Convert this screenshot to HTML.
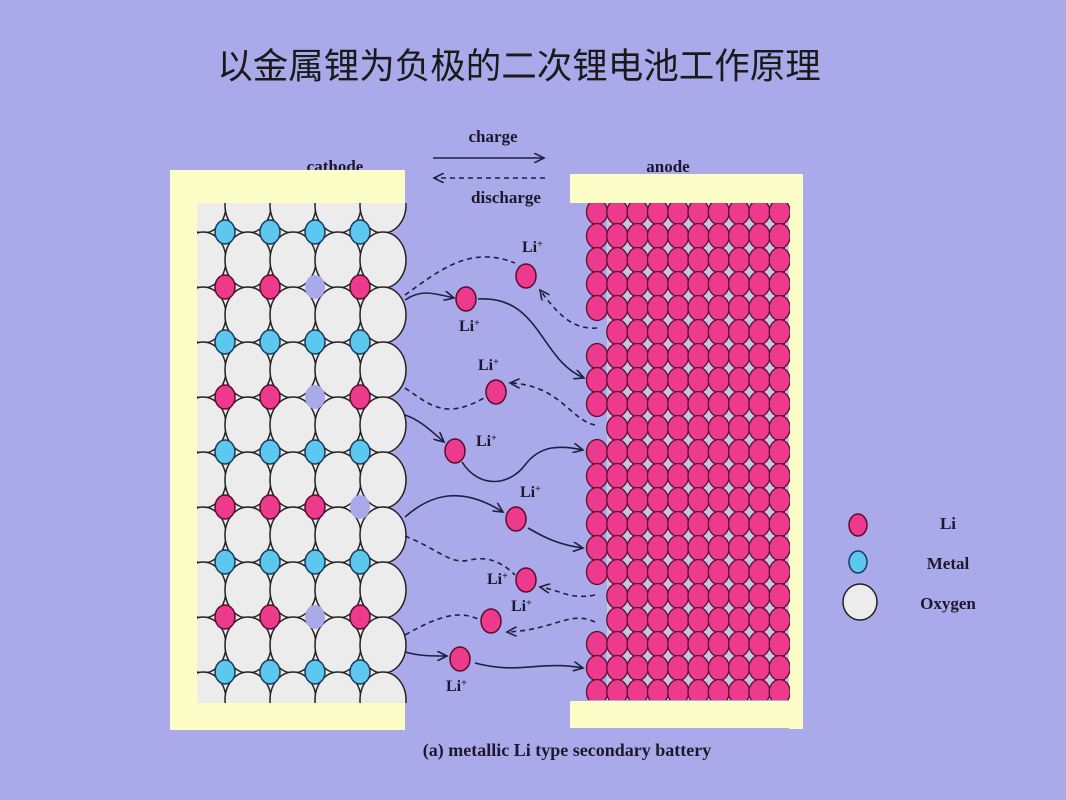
<!DOCTYPE html>
<html><head><meta charset="utf-8"><style>
html,body{margin:0;padding:0;background:#aaa9ea;}
svg{display:block;}
.t{font-family:"Liberation Serif",serif;font-weight:bold;fill:#1a1a2e;}
</style></head><body>
<svg id="s" width="1066" height="800" xmlns="http://www.w3.org/2000/svg">
<defs>
<clipPath id="cc"><rect x="197" y="203" width="215" height="500"/></clipPath>
<clipPath id="ac"><rect x="585" y="203" width="205" height="497"/></clipPath>
<marker id="ar" markerWidth="12" markerHeight="10" refX="10" refY="5" orient="auto" markerUnits="userSpaceOnUse"><path d="M0,0 L10,5 L0,10" fill="none" stroke="#1e2040" stroke-width="1.6"/></marker>
</defs>
<rect width="1066" height="800" fill="#aaa9ea"/>
<text x="519" y="78" text-anchor="middle" font-family="'Liberation Sans','Noto Sans CJK SC',sans-serif" font-size="35.5" fill="#1a1a1a">以金属锂为负极的二次锂电池工作原理</text>
<text class="t" x="493" y="142" font-size="17" text-anchor="middle">charge</text>
<line x1="433" y1="158" x2="544" y2="158" stroke="#1e2040" stroke-width="1.6" marker-end="url(#ar)"/>
<line x1="545" y1="178" x2="434" y2="178" stroke="#1e2040" stroke-width="1.6" stroke-dasharray="5,4" marker-end="url(#ar)"/>
<text class="t" x="506" y="203" font-size="17" text-anchor="middle">discharge</text>
<text class="t" x="335" y="172" font-size="17" text-anchor="middle">cathode</text>
<text class="t" x="668" y="172" font-size="17" text-anchor="middle">anode</text>
<!-- cathode frame -->
<rect x="170" y="170" width="235" height="33" fill="#fdfdc8"/>
<rect x="170" y="170" width="27" height="560" fill="#fdfdc8"/>
<rect x="197" y="203" width="186" height="500" fill="#ececec"/>
<g id="cath" clip-path="url(#cc)"></g>
<rect x="170" y="703" width="235" height="27" fill="#fdfdc8"/>
<!-- anode frame -->
<rect x="570" y="174" width="232" height="29" fill="#fdfdc8"/>
<rect x="789" y="174" width="14" height="555" fill="#fdfdc8"/>
<rect x="607" y="203" width="182" height="497" fill="#c9c4e6"/>
<g id="an" clip-path="url(#ac)"></g>
<rect x="570" y="701" width="233" height="27" fill="#fdfdc8"/>
<g fill="none" stroke="#1e2040" stroke-width="1.6">
<path d="M405,300 C420,290 430,292 454,298" marker-end="url(#ar)"/>
<path d="M478,299 C540,295 540,360 584,378" marker-end="url(#ar)"/>
<path d="M405,415 C420,420 430,430 444,442" marker-end="url(#ar)"/>
<path d="M462,462 C480,490 510,485 525,465 C540,445 560,445 583,450" marker-end="url(#ar)"/>
<path d="M405,517 C430,495 460,485 503,512" marker-end="url(#ar)"/>
<path d="M528,528 C545,538 560,545 583,548" marker-end="url(#ar)"/>
<path d="M405,652 C420,656 430,656 447,656" marker-end="url(#ar)"/>
<path d="M475,663 C520,675 540,660 583,668" marker-end="url(#ar)"/>
</g>
<g fill="none" stroke="#1e2040" stroke-width="1.6" stroke-dasharray="5,4">
<path d="M405,295 C440,270 470,245 515,263"/>
<path d="M597,328 C570,330 555,310 540,290" marker-end="url(#ar)"/>
<path d="M405,388 C430,405 445,420 484,398"/>
<path d="M595,425 C570,420 560,385 510,383" marker-end="url(#ar)"/>
<path d="M405,536 C440,550 450,565 470,560 C490,555 505,565 515,575"/>
<path d="M595,595 C570,600 560,590 540,587" marker-end="url(#ar)"/>
<path d="M405,635 C440,615 460,610 480,620"/>
<path d="M595,622 C570,610 555,630 507,632" marker-end="url(#ar)"/>
</g>
<g fill="#ee3a8c" stroke="#5a0f2e" stroke-width="1.5">
<ellipse cx="526" cy="276" rx="10" ry="12"/>
<ellipse cx="466" cy="299" rx="10" ry="12"/>
<ellipse cx="496" cy="392" rx="10" ry="12"/>
<ellipse cx="455" cy="451" rx="10" ry="12"/>
<ellipse cx="516" cy="519" rx="10" ry="12"/>
<ellipse cx="526" cy="580" rx="10" ry="12"/>
<ellipse cx="491" cy="621" rx="10" ry="12"/>
<ellipse cx="460" cy="659" rx="10" ry="12"/>
</g>
<g class="t" font-size="16">
<text x="522" y="252">Li<tspan font-size="10" dy="-5">+</tspan></text>
<text x="459" y="331">Li<tspan font-size="10" dy="-5">+</tspan></text>
<text x="478" y="370">Li<tspan font-size="10" dy="-5">+</tspan></text>
<text x="476" y="446">Li<tspan font-size="10" dy="-5">+</tspan></text>
<text x="520" y="497">Li<tspan font-size="10" dy="-5">+</tspan></text>
<text x="487" y="584">Li<tspan font-size="10" dy="-5">+</tspan></text>
<text x="511" y="611">Li<tspan font-size="10" dy="-5">+</tspan></text>
<text x="446" y="691">Li<tspan font-size="10" dy="-5">+</tspan></text>
</g>
<ellipse cx="858" cy="525" rx="9" ry="11" fill="#ee3a8c" stroke="#5a0f2e" stroke-width="1.5"/>
<ellipse cx="858" cy="562" rx="9" ry="11" fill="#5cc8f0" stroke="#1c3a5a" stroke-width="1.5"/>
<ellipse cx="860" cy="602" rx="17" ry="18" fill="#ececec" stroke="#222" stroke-width="1.5"/>
<text class="t" x="948" y="529" font-size="17" text-anchor="middle">Li</text>
<text class="t" x="948" y="569" font-size="17" text-anchor="middle">Metal</text>
<text class="t" x="948" y="609" font-size="17" text-anchor="middle">Oxygen</text>
<text class="t" x="567" y="756" font-size="18" text-anchor="middle">(a) metallic Li type secondary battery</text>
</svg>
<script>
var NS="http://www.w3.org/2000/svg";
function el(p,a){var e=document.createElementNS(NS,"ellipse");for(var k in a)e.setAttribute(k,a[k]);p.appendChild(e);}
var c=document.getElementById("cath");
var xs=[203,248,293,338,383];
for(var k=0;k<10;k++)for(var i=0;i<5;i++)el(c,{cx:xs[i],cy:205+55*k,rx:23,ry:28,fill:"#ececec",stroke:"#222",'stroke-width':1.5});
var sx=[225,270,315,360];
var holes={1:2,3:2,5:3,7:2};
for(var k=0;k<9;k++)for(var i=0;i<4;i++){
 var y=232+55*k;
 if(k%2==0) el(c,{cx:sx[i],cy:y,rx:10,ry:12,fill:"#5cc8f0",stroke:"#1c3a5a",'stroke-width':1.5});
 else if(holes[k]===i) el(c,{cx:sx[i],cy:y,rx:10,ry:12,fill:"#aaa9ea",stroke:"none"});
 else el(c,{cx:sx[i],cy:y,rx:10,ry:12,fill:"#ee3a8c",stroke:"#5a0f2e",'stroke-width':1.5});
}
var a=document.getElementById("an");
var miss={5:1,9:1,16:1,17:1};
for(var r=0;r<21;r++)for(var j=0;j<10;j++){
 if(j==0&&miss[r])continue;
 el(a,{cx:597+20.3*j,cy:212+24*r,rx:10.5,ry:12.5,fill:"#ee3a8c",stroke:"#5a0f2e",'stroke-width':1.3});
}
</script>
</body></html>
